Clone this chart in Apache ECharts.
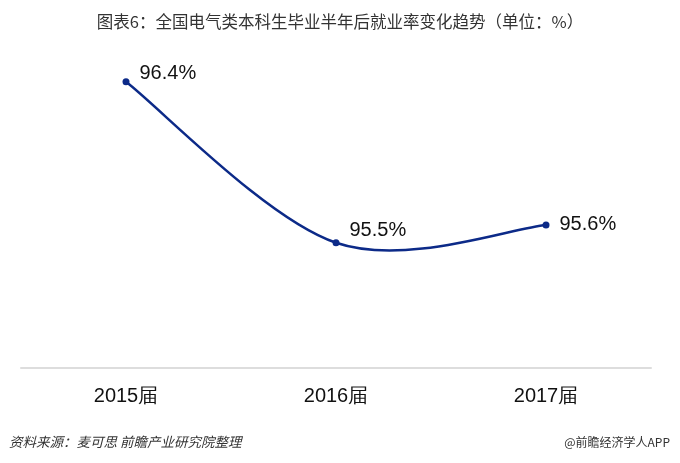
<!DOCTYPE html>
<html><head><meta charset="utf-8">
<script src="https://cdn.jsdelivr.net/npm/echarts@6/dist/echarts.min.js"></script>
<style>html,body{margin:0;padding:0;background:#fff}#c{width:680px;height:463px}</style>
</head><body><div id="c"></div>
<script>
var categories = ['2015届', '2016届', '2017届'];
var rates = [96.4, 95.5, 95.6];
var labelOffsets = [[0, -8], [0, -12], [0, 0]];

function curvePath(api) {
  var pts = rates.map(function (v, i) { return api.coord([i, v]); });
  var d = 'M' + pts[0][0] + ' ' + pts[0][1];
  for (var i = 0; i < pts.length - 1; i++) {
    var p0 = pts[Math.max(i - 1, 0)], p1 = pts[i], p2 = pts[i + 1], p3 = pts[Math.min(i + 2, pts.length - 1)];
    var c1 = [p1[0] + (p2[0] - p0[0]) / 6, p1[1] + (p2[1] - p0[1]) / 6];
    var c2 = [p2[0] - (p3[0] - p1[0]) / 6, p2[1] - (p3[1] - p1[1]) / 6];
    d += ' C' + c1[0] + ' ' + c1[1] + ' ' + c2[0] + ' ' + c2[1] + ' ' + p2[0] + ' ' + p2[1];
  }
  return d;
}

var chart = echarts.init(document.getElementById('c'));
chart.setOption({
  animation: false,
  backgroundColor: '#fff',
  title: {
    text: '图表6：全国电气类本科生毕业半年后就业率变化趋势（单位：%）',
    left: 'center', top: 8,
    textStyle: { fontSize: 16.5, fontWeight: 'normal', color: '#333', fontFamily: 'Noto Sans CJK SC' }
  },
  graphic: [
    { type: 'text', left: 9, top: 435, style: { text: '资料来源：麦可思 前瞻产业研究院整理', fontSize: 13.5, fontStyle: 'italic', fill: '#333', fontFamily: 'Noto Sans CJK SC' } },
    { type: 'text', right: 10, top: 436, style: { text: '@前瞻经济学人APP', fontSize: 12, fill: '#333', fontFamily: 'Noto Sans CJK SC' } }
  ],
  grid: { left: 21, right: 29, top: 46, bottom: 95 },
  xAxis: {
    type: 'category', data: categories, boundaryGap: true,
    axisLine: { lineStyle: { color: '#ddd', width: 2 } },
    axisTick: { show: false },
    axisLabel: { fontSize: 20, color: '#111', margin: 18, fontFamily: 'Liberation Sans' }
  },
  yAxis: { type: 'value', min: 94.8, max: 96.6, show: false, splitLine: { show: false } },
  series: [{
    type: 'custom',
    data: rates.map(function (v, i) { return [i, v]; }),
    renderItem: function (params, api) {
      if (params.dataIndex !== 0) return null;
      return {
        type: 'path',
        shape: { pathData: curvePath(api) },
        style: { fill: null, stroke: '#0c2a88', lineWidth: 2.5 }
      };
    },
    z: 2
  }, {
    type: 'scatter',
    data: rates.map(function (v, i) {
      return { value: v, label: { offset: labelOffsets[i] } };
    }),
    symbol: 'circle', symbolSize: 7,
    itemStyle: { color: '#0c2a88', opacity: 1 },
    z: 3,
    label: {
      show: true, position: 'right', distance: 10,
      formatter: '{c}%', fontSize: 20, color: '#111', opacity: 1, fontFamily: 'Liberation Sans'
    }
  }]
});
</script></body></html>
